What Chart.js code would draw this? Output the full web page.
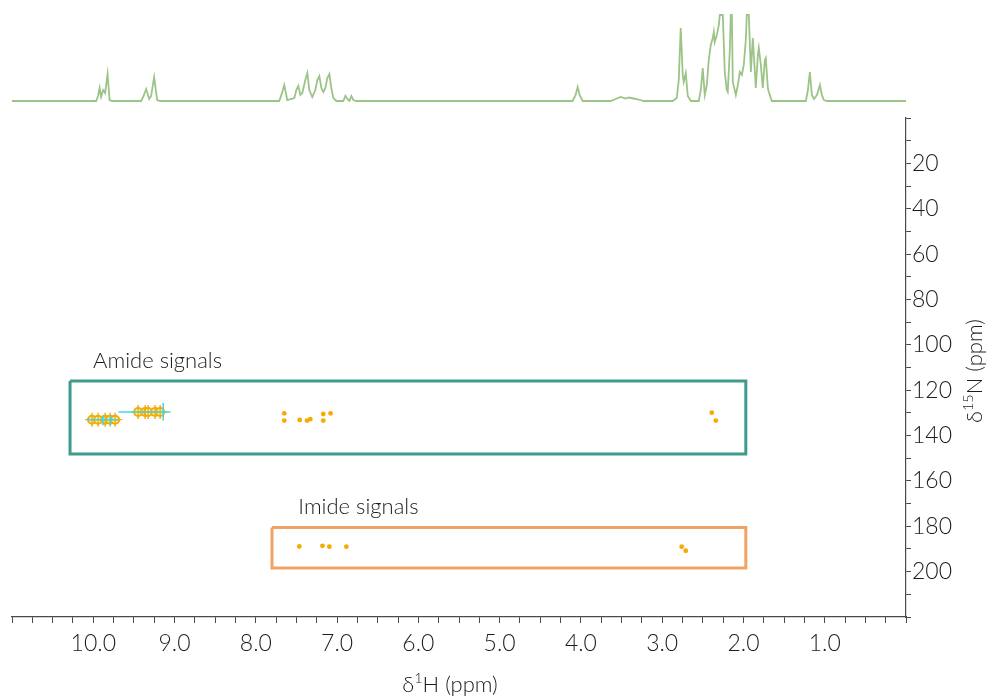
<!DOCTYPE html>
<html>
<head>
<meta charset="utf-8">
<title>1H-15N HSQC</title>
<script src="https://cdn.jsdelivr.net/npm/chart.js@4.4.1/dist/chart.umd.min.js"></script>
<style>
  html, body { margin: 0; padding: 0; background: #ffffff; }
  #wrap { position: relative; width: 990px; height: 696px; }
  #wrap canvas { position: absolute; left: 0; top: 0; }
  #proton { pointer-events: none; }
</style>
</head>
<body>
<div id="wrap">
  <canvas id="hsqc" width="990" height="696"></canvas>
  <canvas id="proton" width="990" height="696"></canvas>
</div>
<script>
// ---- 1D 1H projection (ppm, relative intensity; 86 = clipped top) ----
const protonPpm = [
  11.000, 9.965, 9.941, 9.922, 9.904, 9.879, 9.854, 9.824, 9.799, 9.768,
  9.411, 9.386, 9.349, 9.312, 9.288, 9.251, 9.214, 9.177,
  7.711, 7.674, 7.650, 7.613, 7.526, 7.502, 7.477, 7.452, 7.428, 7.391, 7.366, 7.342,
  7.305, 7.268, 7.243, 7.218, 7.194, 7.169, 7.144, 7.120, 7.095, 7.071, 7.046, 7.009,
  6.923, 6.898, 6.873, 6.849, 6.824, 6.800, 6.763,
  4.102, 4.065, 4.040, 4.016, 3.979,
  3.634, 3.572, 3.511, 3.449, 3.412, 3.351, 3.289, 3.227,
  2.870, 2.821, 2.796, 2.772, 2.747, 2.735, 2.710, 2.685, 2.648,
  2.550, 2.525, 2.501, 2.476, 2.451, 2.427, 2.402, 2.377, 2.365, 2.353, 2.328, 2.303,
  2.291, 2.254, 2.230, 2.205, 2.193, 2.168, 2.156, 2.143, 2.131, 2.094, 2.069, 2.045,
  2.020, 1.996, 1.971, 1.959, 1.934, 1.909, 1.885, 1.848, 1.823, 1.811, 1.786, 1.762,
  1.737, 1.725, 1.700, 1.688, 1.651,
  1.232, 1.207, 1.183, 1.158, 1.133, 1.096, 1.059, 1.035, 1.010, 0.973, 0.000
];
const protonIntensity = [
  0, 0, 5, 13, 4, 11, 8, 27, 1, 0,
  0, 4, 12, 2, 5, 24, 1, 0,
  0, 9, 16, 1, 3, 11, 15, 6, 8, 21, 28, 11,
  4, 11, 21, 25, 13, 9, 13, 23, 27, 13, 3, 0,
  0, 5, 2, 0, 5, 1, 0,
  0, 6, 14, 6, 0,
  0, 2, 4, 2.5, 3.5, 2.5, 1.5, 0,
  0, 3, 21, 73, 26, 19, 28, 5, 0,
  0, 11, 33, 6, 16, 41, 56, 63, 69, 59, 66, 76,
  86, 86, 29, 11, 9, 51, 86, 86, 19, 6, 16, 29,
  26, 36, 61, 86, 86, 29, 63, 13, 46, 53, 36, 13,
  41, 43, 13, 9, 0,
  0, 11, 29, 6, 2, 6, 16, 6, 1, 0, 0
];

// ---- 2D cross peaks (δ1H ppm, δ15N ppm) ----
const amideStrongH = [10.015, 9.941, 9.854, 9.793, 9.731, 9.448, 9.362, 9.325, 9.239, 9.177];
const amideStrongN = [133.0, 133.0, 133.0, 133.0, 133.0, 129.6, 129.6, 129.6, 129.6, 129.6];
const amideWeakH = [7.65, 7.65, 7.46, 7.37, 7.33, 7.17, 7.17, 7.08, 2.39, 2.34];
const amideWeakN = [130.2, 133.4, 133.1, 133.4, 132.8, 133.4, 130.5, 130.2, 129.9, 133.4];
const imideH = [7.465, 7.18, 7.095, 6.886, 2.76, 2.71];
const imideN = [188.9, 188.6, 189.0, 189.0, 189.0, 190.8];

// negative-contour traces: [H start, N start, H end, N end]
const contourTraces = [
  [9.69, 129.6, 9.05, 129.6],
  [9.14, 125.6, 9.14, 133.4],
  [9.88, 131.0, 9.88, 135.5],
  [9.79, 131.0, 9.79, 135.5],
  [10.08, 133.0, 9.70, 133.0]
];

// highlighted regions (H range, N range)
const amideBoxH = [10.286, 1.971];
const amideBoxN = [115.9, 148.1];
const imideBoxH = [7.801, 1.971];
const imideBoxN = [180.5, 198.4];

// axis ranges and labelled ticks
const hRange = [0, 11];
const nRange = [0, 220];
const hLabelled = [10, 9, 8, 7, 6, 5, 4, 3, 2, 1];
const nLabelled = [20, 40, 60, 80, 100, 120, 140, 160, 180, 200];

const FONT = "Lato, 'Open Sans', 'DejaVu Sans', sans-serif";
const AXIS_COLOR = '#4a4a4a';
const TEXT_COLOR = '#1c1c1c';
const PLOT_LEFT = 12;
const PLOT_RIGHT = 906;
const PLOT_TOP = 118;
const PLOT_BOTTOM = 617;
const W = 990, H = 696;

function pts(xs, ys) { return xs.map((x, i) => ({ x: x, y: ys[i] })); }
function rect(hr, nr) {
  return [
    { x: hr[0], y: nr[0] }, { x: hr[1], y: nr[0] },
    { x: hr[1], y: nr[1] }, { x: hr[0], y: nr[1] }, { x: hr[0], y: nr[0] }
  ];
}

// text with a superscript run: parts = [[text, isSup], ...]
function drawSupText(ctx, parts, size) {
  const fontFor = sup => '300 ' + (sup ? size * 0.66 : size) + 'px ' + FONT;
  let total = 0;
  parts.forEach(p => {
    ctx.font = fontFor(p[1]);
    total += ctx.measureText(p[0]).width;
  });
  let x = -total / 2;
  parts.forEach(p => {
    ctx.font = fontFor(p[1]);
    ctx.fillText(p[0], x, p[1] ? -size * 0.3 : 0);
    x += ctx.measureText(p[0]).width;
  });
}

const annotations = {
  id: 'annotations',
  afterDatasetsDraw(chart) {
    const ctx = chart.ctx;
    const xs = chart.scales.x, ys = chart.scales.y;
    ctx.save();
    ctx.fillStyle = TEXT_COLOR;
    ctx.textBaseline = 'middle';
    ctx.textAlign = 'left';
    ctx.font = '300 22px ' + FONT;
    ctx.fillText('Amide signals', xs.getPixelForValue(10.002), ys.getPixelForValue(107.1));
    ctx.fillText('Imide signals', xs.getPixelForValue(7.477), ys.getPixelForValue(171.4));

    // axis titles
    ctx.save();
    ctx.translate(450, 685);
    drawSupText(ctx, [['δ', false], ['1', true], ['H (ppm)', false]], 22);
    ctx.restore();
    ctx.save();
    ctx.translate(975, 371);
    ctx.rotate(-Math.PI / 2);
    drawSupText(ctx, [['δ', false], ['15', true], ['N (ppm)', false]], 22);
    ctx.restore();
    ctx.restore();
  }
};

const cyan = '#46d6e6';
const orange = '#f5ab00';

const hsqcDatasets = [
  {
    label: 'Amide region', data: rect(amideBoxH, amideBoxN), showLine: true,
    borderColor: '#3f9a8e', borderWidth: 3, pointRadius: 0, fill: false
  },
  {
    label: 'Imide region', data: rect(imideBoxH, imideBoxN), showLine: true,
    borderColor: '#f0a363', borderWidth: 3, pointRadius: 0, fill: false
  }
];
contourTraces.forEach(t => {
  hsqcDatasets.push({
    label: 'contour', data: [{ x: t[0], y: t[1] }, { x: t[2], y: t[3] }], showLine: true,
    borderColor: cyan, borderWidth: 1.6, pointRadius: 0
  });
});
hsqcDatasets.push(
  {
    label: 'Amide (strong) tails', data: pts(amideStrongH, amideStrongN),
    pointStyle: 'cross', pointRadius: 7, borderColor: orange, borderWidth: 1.4
  },
  {
    label: 'Amide (strong)', data: pts(amideStrongH, amideStrongN),
    pointStyle: 'circle', pointRadius: 4, borderColor: orange, borderWidth: 2,
    backgroundColor: '#fff3c4'
  },
  {
    label: 'Amide', data: pts(amideWeakH, amideWeakN),
    pointStyle: 'circle', pointRadius: 2.4, borderWidth: 0, backgroundColor: orange
  },
  {
    label: 'Imide', data: pts(imideH, imideN),
    pointStyle: 'circle', pointRadius: 2.4, borderWidth: 0, backgroundColor: orange
  }
);

new Chart(document.getElementById('hsqc'), {
  type: 'scatter',
  data: { datasets: hsqcDatasets },
  options: {
    responsive: false,
    animation: false,
    events: [],
    layout: { padding: { left: PLOT_LEFT, top: PLOT_TOP, right: 0, bottom: 0 } },
    plugins: { legend: { display: false }, tooltip: { enabled: false } },
    scales: {
      x: {
        type: 'linear', position: 'bottom', reverse: true,
        min: hRange[0], max: hRange[1],
        afterFit(s) { s.height = H - PLOT_BOTTOM; },
        grid: { drawOnChartArea: false, drawTicks: true, tickLength: 6, color: AXIS_COLOR, lineWidth: 1 },
        border: { display: true, color: AXIS_COLOR, width: 1.2 },
        ticks: {
          stepSize: 0.25, autoSkip: false, maxRotation: 0, minRotation: 0,
          padding: 7, color: TEXT_COLOR, font: { family: FONT, size: 23, weight: '300' },
          callback(v) {
            const r = Math.round(v * 100) / 100;
            return hLabelled.includes(r) ? r.toFixed(1) : '';
          }
        }
      },
      y: {
        type: 'linear', position: 'right', reverse: true,
        min: nRange[0], max: nRange[1],
        afterFit(s) { s.width = W - PLOT_RIGHT; },
        grid: { drawOnChartArea: false, drawTicks: true, tickLength: 5, color: AXIS_COLOR, lineWidth: 1 },
        border: { display: true, color: AXIS_COLOR, width: 1.2 },
        ticks: {
          stepSize: 10, autoSkip: false, padding: 1,
          color: TEXT_COLOR, font: { family: FONT, size: 23, weight: '300' },
          callback(v) { return nLabelled.includes(Math.round(v)) ? String(Math.round(v)) : ''; }
        }
      }
    }
  },
  plugins: [annotations]
});

// 1D projection drawn above the 2D map on the same ppm scale
new Chart(document.getElementById('proton'), {
  type: 'line',
  data: {
    datasets: [{
      label: '1H', data: pts(protonPpm, protonIntensity),
      borderColor: '#9cc486', borderWidth: 1.8, pointRadius: 0, tension: 0, clip: false
    }]
  },
  options: {
    responsive: false,
    animation: false,
    events: [],
    layout: { padding: { left: PLOT_LEFT, right: W - PLOT_RIGHT, top: 15, bottom: H - 101 } },
    plugins: { legend: { display: false }, tooltip: { enabled: false } },
    scales: {
      x: { type: 'linear', display: false, reverse: true, min: hRange[0], max: hRange[1] },
      y: { type: 'linear', display: false, min: 0, max: 86 }
    }
  }
});
</script>
</body>
</html>
